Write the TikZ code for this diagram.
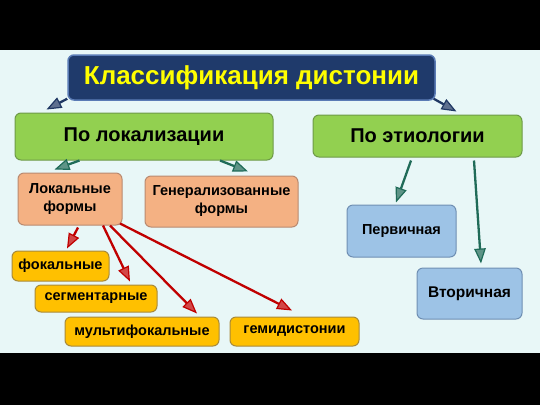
\documentclass[tikz,border=0pt]{standalone}
\usepackage{fontspec}
\setmainfont{Liberation Sans}
\usetikzlibrary{arrows.meta,calc}
\definecolor{bgc}{HTML}{E8F7F7}
\definecolor{navy}{HTML}{1F3A6B}
\definecolor{navyb}{HTML}{5A7BB5}
\definecolor{grn}{HTML}{92D050}
\definecolor{grnb}{HTML}{6E9A48}
\definecolor{org}{HTML}{F4B183}
\definecolor{orgb}{HTML}{B98A70}
\definecolor{blu}{HTML}{9DC3E6}
\definecolor{blub}{HTML}{6F8FB3}
\definecolor{ylw}{HTML}{FFC000}
\definecolor{ylwb}{HTML}{A88A3A}
\definecolor{ttl}{HTML}{FFFF00}
\definecolor{arrN}{HTML}{203864}
\definecolor{arrG}{HTML}{1F6B58}
\definecolor{arrR}{HTML}{C00000}
\tikzset{
  box/.style={rectangle, rounded corners=6pt, line width=1pt, inner sep=0pt, align=center},
  titlebox/.style={box, fill=navy, draw=navyb, line width=1.5pt, text=ttl, font=\fontsize{26}{30}\selectfont\bfseries},
  greenbox/.style={box, fill=grn, draw=grnb, font=\fontsize{20}{24}\selectfont\bfseries},
  orangebox/.style={box, fill=org, draw=orgb, font=\fontsize{14.5}{18}\selectfont\bfseries},
  bluebox/.style={box, fill=blu, draw=blub, font=\fontsize{14.5}{18}\selectfont\bfseries},
  yellowbox/.style={box, fill=ylw, draw=ylwb, font=\fontsize{14.5}{18}\selectfont\bfseries},
  conn/.style={line width=2.3pt, draw=#1, -{Triangle[length=15pt,width=11.5pt,line width=1.2pt,fill=#1!72!white]}},
}
\begin{document}
\begin{tikzpicture}[x=1pt,y=-1pt]
\useasboundingbox (0,0) rectangle (540,405);
\fill[black] (0,0) rectangle (540,50);
\fill[bgc] (0,50) rectangle (540,353);
\fill[black] (0,353) rectangle (540,405);

\node[titlebox, minimum width=367pt, minimum height=45pt] (title) at (251.5,77.5) {Классификация дистонии};
\node[greenbox, minimum width=258pt, minimum height=47pt] (loc) at (144,136.5) {По локализации};
\node[greenbox, minimum width=209pt, minimum height=42pt] (etio) at (417.5,136) {По этиологии};
\node[orangebox, minimum width=104pt, minimum height=52pt] (lok) at (70,199) {Локальные\\формы};
\node[orangebox, minimum width=153pt, minimum height=51pt] (gen) at (221.5,201.5) {Генерализованные\\формы};
\node[bluebox, minimum width=109pt, minimum height=52pt] (perv) at (401.5,231) {Первичная};
\node[bluebox, minimum width=105pt, minimum height=51pt, font=\fontsize{15.5}{18}\selectfont\bfseries] (vtor) at (469.5,293.5) {Вторичная};
\node[yellowbox, minimum width=97pt, minimum height=30pt] (fok) at (60.5,266) {фокальные};
\node[yellowbox, minimum width=122pt, minimum height=27pt] (seg) at (96,298.5) {сегментарные};
\node[yellowbox, minimum width=154pt, minimum height=29pt] (mult) at (142,331.5) {мультифокальные};
\node[yellowbox, minimum width=129pt, minimum height=29pt] (gem) at (294.5,331.5) {гемидистонии};

\draw[conn=arrN] ($(title.south west)+(0,-2)$) -- ($(loc.north west)+(32,-3)$);
\draw[conn=arrN] ($(title.south east)+(-2,-2)$) -- ($(etio.north west)+(144,-3)$);
\draw[conn=arrG] ($(loc.south west)+(65,0)$) -- ($(lok.north west)+(37,-3)$);
\draw[conn=arrG] ($(loc.south)+(76,0)$) -- ($(gen.north)+(26.5,-4)$);
\draw[conn=arrG] ($(etio.south)+(-6.5,3)$) -- ($(perv.north)+(-5.5,-2)$);
\draw[conn=arrG] ($(etio.south)+(56.5,3)$) -- ($(vtor.north)+(11.5,-4)$);
\draw[conn=arrR] ($(lok.south)+(8,2)$) -- ($(fok.north)+(6.5,-2)$);
\draw[conn=arrR] ($(lok.south)+(33,0)$) -- ($(seg.north)+(34,-3)$);
\draw[conn=arrR] ($(lok.south)+(40,0)$) -- ($(mult.north)+(55,-3)$);
\draw[conn=arrR] ($(lok.south)+(50,-2)$) -- ($(gem.north)+(-2.5,-6)$);
\end{tikzpicture}
\end{document}
